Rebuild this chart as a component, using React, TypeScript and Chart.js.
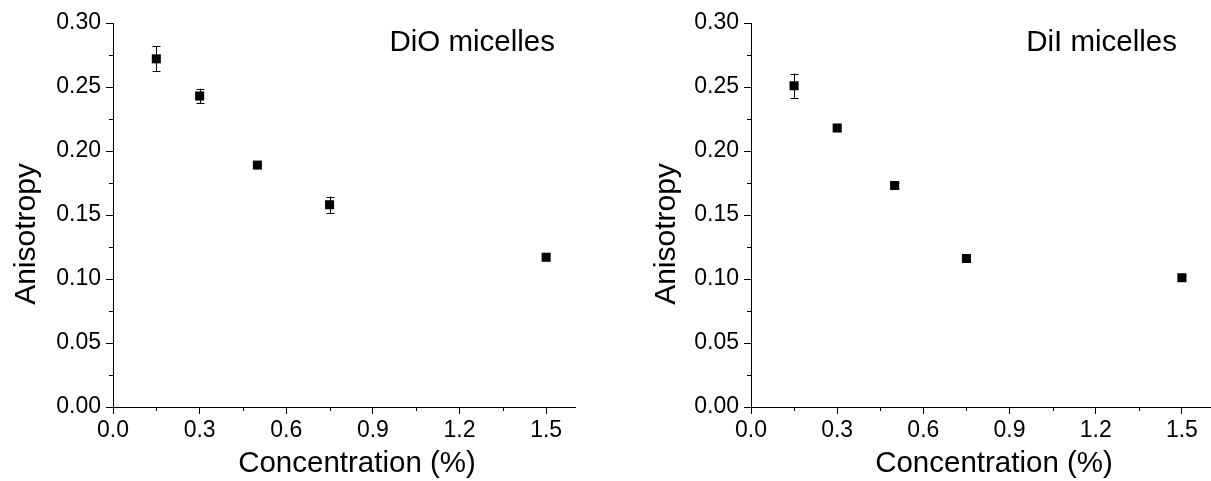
import React, { useEffect, useRef } from "react";
import { Chart, registerables } from "chart.js";

Chart.register(...registerables);

// ---- data ----
const concentration = [0.15, 0.3, 0.5, 0.75, 1.5];
const dioAnisotropy = [0.272, 0.243, 0.189, 0.158, 0.117];
const dioError = [0.0097, 0.0057, 0.002, 0.0064, 0.002];
const diiAnisotropy = [0.251, 0.218, 0.173, 0.116, 0.101];
const diiError = [0.0094, 0.002, 0.002, 0.002, 0.002];

const xMajorStep = 0.3;
const yMajorStep = 0.05;
const xMinorTicks = [0.15, 0.45, 0.75, 1.05, 1.35];
const yMinorTicks = [0.025, 0.075, 0.125, 0.175, 0.225, 0.275];

const xTitle = "Concentration (%)";
const yTitle = "Anisotropy";
const FONT = "'Liberation Sans', Arial, Helvetica, sans-serif";

type PanelCfg = {
  label: string;
  values: number[];
  errors: number[];
  yWidth: number;
  padRight: number;
  labelRightOffset: number; // from chart area left
  yTitleX: number;
  xTitleOffset: number;
};

function makePlugin(cfg: PanelCfg) {
  return {
    id: "panelExtras",
    beforeDatasetsDraw(chart: any) {
      const ctx = chart.ctx;
      const xs = chart.scales.x;
      const ys = chart.scales.y;
      ctx.save();
      ctx.strokeStyle = "#000";
      ctx.lineWidth = 1;
      concentration.forEach((c, i) => {
        const e = cfg.errors[i];
        const px = Math.round(xs.getPixelForValue(c)) + 0.5;
        const top = ys.getPixelForValue(cfg.values[i] + e);
        const bot = ys.getPixelForValue(cfg.values[i] - e);
        ctx.beginPath();
        ctx.moveTo(px, top);
        ctx.lineTo(px, bot);
        ctx.moveTo(px - 4, Math.round(top) + 0.5);
        ctx.lineTo(px + 4, Math.round(top) + 0.5);
        ctx.moveTo(px - 4, Math.round(bot) + 0.5);
        ctx.lineTo(px + 4, Math.round(bot) + 0.5);
        ctx.stroke();
      });
      ctx.restore();
    },
    afterDraw(chart: any) {
      const ctx = chart.ctx;
      const xs = chart.scales.x;
      const ys = chart.scales.y;
      const area = chart.chartArea;
      ctx.save();
      ctx.strokeStyle = "#000";
      ctx.lineWidth = 1;
      ctx.beginPath();
      xMinorTicks.forEach((v) => {
        const px = Math.round(xs.getPixelForValue(v)) + 0.5;
        ctx.moveTo(px, area.bottom);
        ctx.lineTo(px, area.bottom + 4);
      });
      yMinorTicks.forEach((v) => {
        const py = Math.round(ys.getPixelForValue(v)) + 0.5;
        ctx.moveTo(area.left, py);
        ctx.lineTo(area.left - 4, py);
      });
      ctx.stroke();

      ctx.fillStyle = "#000";
      ctx.font = `29.5px ${FONT}`;
      // panel label
      ctx.textAlign = "right";
      ctx.textBaseline = "alphabetic";
      ctx.fillText(cfg.label, area.left + cfg.labelRightOffset, 51);
      // x title
      ctx.textAlign = "center";
      ctx.fillText(xTitle, area.left + cfg.xTitleOffset, 472);
      // y title
      ctx.save();
      ctx.font = `30px ${FONT}`;
      ctx.translate(cfg.yTitleX, 234);
      ctx.rotate(-Math.PI / 2);
      ctx.textBaseline = "middle";
      ctx.fillText(yTitle, 0, 0);
      ctx.restore();
      ctx.restore();
    },
  };
}

function Panel({ cfg, width, left }: { cfg: PanelCfg; width: number; left: number }) {
  const ref = useRef<HTMLCanvasElement>(null);
  useEffect(() => {
    if (!ref.current) return;
    const chart = new Chart(ref.current, {
      type: "scatter",
      data: {
        datasets: [
          {
            label: cfg.label,
            data: concentration.map((c, i) => ({ x: c, y: cfg.values[i] })),
            pointStyle: "rect",
            pointRadius: 6.4,
            pointHoverRadius: 6.4,
            backgroundColor: "#000",
            borderWidth: 0,
          },
        ],
      },
      options: {
        animation: false,
        responsive: false,
        devicePixelRatio: 1,
        layout: { padding: { left: 0, right: cfg.padRight, top: 23, bottom: 0 } },
        plugins: { legend: { display: false }, tooltip: { enabled: false } },
        scales: {
          x: {
            type: "linear",
            min: 0,
            max: 1.6,
            afterFit(scale: any) {
              scale.height = 74;
            },
            ticks: {
              stepSize: xMajorStep,
              includeBounds: false,
              color: "#000",
              font: { family: FONT, size: 23 },
              padding: 3,
              maxRotation: 0,
              callback: (v: any) => Number(v).toFixed(1),
            },
            grid: { drawOnChartArea: false, drawTicks: true, tickLength: 7, tickColor: "#000", tickWidth: 1 },
            border: { display: true, color: "#000", width: 1 },
          },
          y: {
            type: "linear",
            min: 0,
            max: 0.3,
            afterFit(scale: any) {
              scale.width = cfg.yWidth;
            },
            ticks: {
              stepSize: yMajorStep,
              includeBounds: false,
              color: "#000",
              font: { family: FONT, size: 23 },
              padding: 5,
              callback: (v: any) => Number(v).toFixed(2),
            },
            grid: { drawOnChartArea: false, drawTicks: true, tickLength: 7, tickColor: "#000", tickWidth: 1 },
            border: { display: true, color: "#000", width: 1 },
          },
        },
      },
      plugins: [makePlugin(cfg)],
    } as any);
    return () => chart.destroy();
  }, []);
  return (
    <canvas
      ref={ref}
      width={width}
      height={481}
      style={{ position: "absolute", left, top: 0, width, height: 481 }}
    />
  );
}

const leftCfg: PanelCfg = {
  label: "DiO micelles",
  values: dioAnisotropy,
  errors: dioError,
  yWidth: 113,
  padRight: 25,
  labelRightOffset: 442,
  yTitleX: 27,
  xTitleOffset: 244,
};

const rightCfg: PanelCfg = {
  label: "DiI micelles",
  values: diiAnisotropy,
  errors: diiError,
  yWidth: 151,
  padRight: 0,
  labelRightOffset: 426,
  yTitleX: 67,
  xTitleOffset: 243,
};

export default function App() {
  return (
    <div style={{ position: "absolute", left: 0, top: 0, width: 1211, height: 481, background: "#fff", overflow: "hidden" }}>
      <Panel cfg={leftCfg} width={600} left={0} />
      <Panel cfg={rightCfg} width={617} left={600} />
    </div>
  );
}
